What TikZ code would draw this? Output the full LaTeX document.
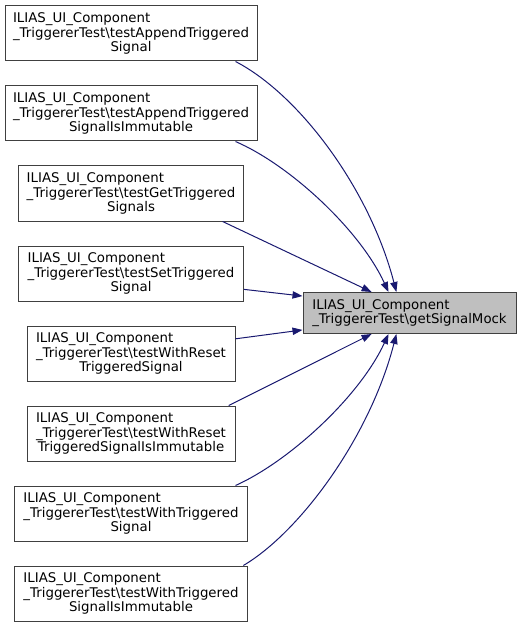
\documentclass[tikz,border=0pt]{standalone}
\usepackage{fontspec}
\setmainfont{DejaVu Sans}
\usetikzlibrary{arrows.meta,positioning}
\definecolor{callblue}{HTML}{191970}
\definecolor{mockgray}{HTML}{BFBFBF}
\newcommand{\testname}[2]{\begin{tabular}[b]{@{}l@{}}ILIAS\_UI\_Component\\\_TriggererTest\textbackslash #1\end{tabular}\\#2}
\tikzset{
  fn/.style={draw=black!75, fill=white, line width=0.75pt, align=center, minimum height=41.25pt, inner sep=3pt, font=\fontsize{10}{10.9}\selectfont},
  tst/.style={fn, minimum width=#1},
  mock/.style={fn, fill=mockgray, align=left, minimum height=30.75pt, minimum width=159.75pt},
  call/.style={draw=callblue, line width=0.75pt, -{Triangle[length=7.5pt, width=5.5pt]}}
}
\begin{document}
\begin{tikzpicture}[x=0.75pt, y=-0.75pt, node distance=18pt]
  \useasboundingbox (0,0) rectangle (521,627);
  \node[tst=189pt] (t1) at (131,33.5) {\testname{testAppendTriggered}{Signal}};
  \node[tst=189pt, below=of t1] (t2) {\testname{testAppendTriggered}{SignalIsImmutable}};
  \node[tst=168.75pt, below=of t2] (t3) {\testname{testGetTriggered}{Signals}};
  \node[tst=168.75pt, below=of t3] (t4) {\testname{testSetTriggered}{Signal}};
  \node[tst=156pt, below=of t4] (t5) {\testname{testWithReset}{TriggeredSignal}};
  \node[tst=156pt, below=of t5] (t6) {\testname{testWithReset}{TriggeredSignalIsImmutable}};
  \node[tst=174.75pt, below=of t6] (t7) {\testname{testWithTriggered}{Signal}};
  \node[tst=174.75pt, below=of t7] (t8) {\testname{testWithTriggered}{SignalIsImmutable}};
  \node[mock] (mock) at (409.5,313) {ILIAS\_UI\_Component\\\_TriggererTest\textbackslash getSignalMock};
  % calls into getSignalMock
  \draw[call] (t1.345) .. controls (300,95) and (370,190) .. (mock.122);
  \draw[call] (t2.345) .. controls (290,165) and (360,230) .. (mock.135);
  \draw[call] (t3.343) -- (mock.151);
  \draw[call] (t4.352) -- (mock.171.5);
  \draw[call] (t5.8) -- (mock.189);
  \draw[call] (t6.16.5) -- (mock.209);
  \draw[call] (t7.15) .. controls (290,461) and (360,396) .. (mock.225);
  \draw[call] (t8.14.5) .. controls (300,532) and (370,437) .. (mock.238);
\end{tikzpicture}
\end{document}
